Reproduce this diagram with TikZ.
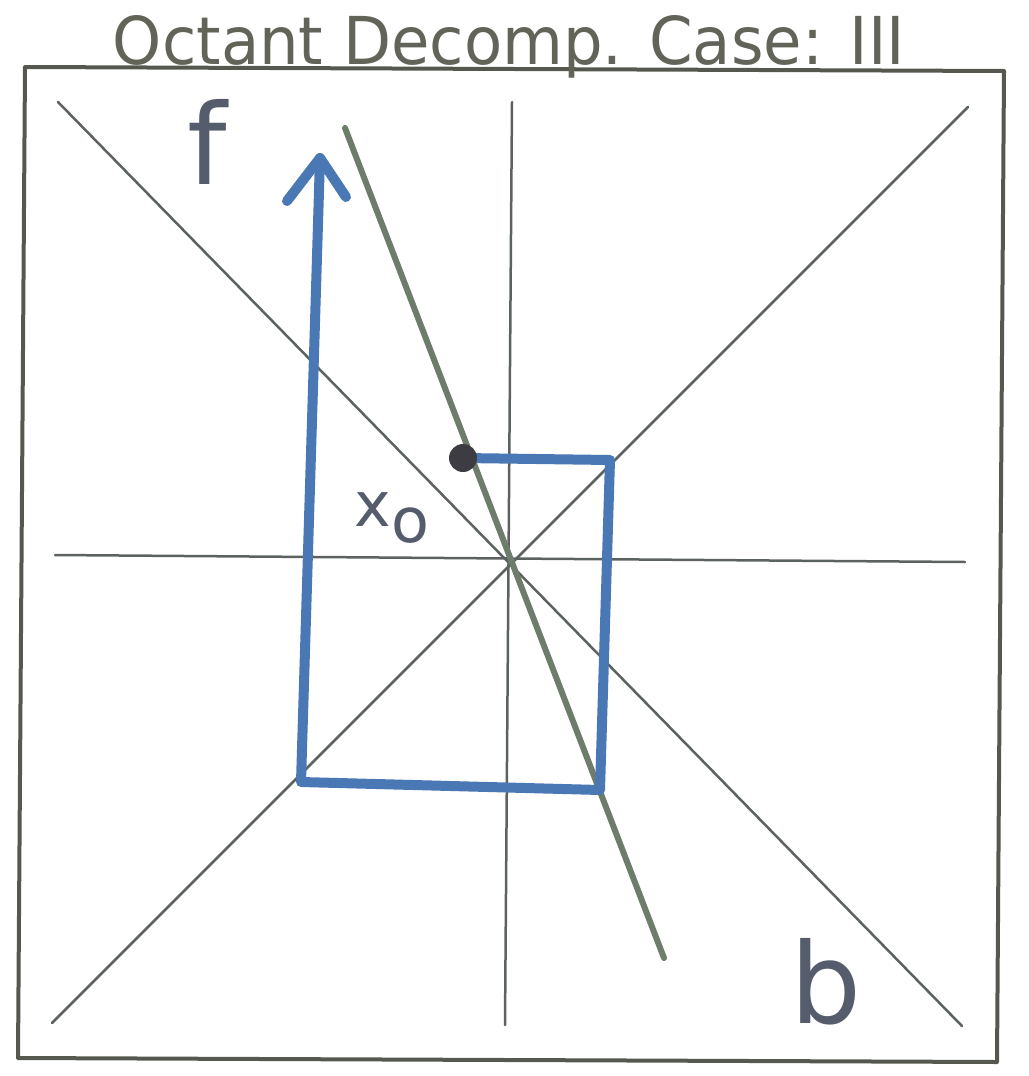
\documentclass[tikz,border=0pt]{standalone}
\usepackage{fontspec}
\setmainfont{DejaVu Sans}
\usepackage{graphicx}
\definecolor{frame}{HTML}{55584F}
\definecolor{axis}{HTML}{5C6260}
\definecolor{greenl}{HTML}{6E7C6C}
\definecolor{bluel}{HTML}{4A78B4}
\definecolor{labc}{HTML}{555C6C}
\definecolor{dotc}{HTML}{3C3C42}
\definecolor{titlec}{HTML}{62645A}
\tikzset{
  framebox/.style={draw=frame, line width=4pt, line join=round},
  axisline/.style={draw=axis, line width=2.5pt, line cap=round},
  splitline/.style={draw=greenl, line width=6pt, line cap=round},
  bluepath/.style={draw=bluel, line width=10pt, line cap=round, line join=round},
  lab/.style={inner sep=0pt, text=labc},
}
\begin{document}
\begin{tikzpicture}[x=1pt,y=-1pt]
\useasboundingbox (0,0) rectangle (1028,1076);
% frame
\coordinate (TL) at (25,67);
\coordinate (TR) at (1004,71);
\coordinate (BR) at (997,1062);
\coordinate (BL) at (18,1058);
\draw[framebox] (TL) -- (TR) -- (BR) -- (BL) -- cycle;
% title
\node[inner sep=0pt, anchor=base, text=titlec] (title) at (509,64)
  {\resizebox{792pt}{49pt}{Octant Decomp. Case: III}};
% axes
\coordinate (C) at (510,561);
\coordinate (hl) at (55,555);
\coordinate (hr) at (965,562);
\coordinate (vt) at (512,102);
\coordinate (vb) at (505,1025);
\coordinate (d1a) at (58,102);
\coordinate (d1b) at (962,1026);
\coordinate (d2a) at (968,107);
\coordinate (d2b) at (52,1023);
\draw[axisline] (hl) -- (hr);
\draw[axisline] (vt) -- (vb);
\draw[axisline] (d1a) -- (d1b);
\draw[axisline] (d2a) -- (d2b);
% split line
\coordinate (g1) at (345,128);
\coordinate (g2) at (664,958);
\draw[splitline] (g1) -- (g2);
% blue path
\coordinate (p0) at (463,458);
\coordinate (p1) at (610,460);
\coordinate (p2) at (600,790);
\coordinate (p3) at (301,782);
\coordinate (tip) at (320,158);
\coordinate (hl1) at (287,201);
\coordinate (hr1) at (346,197);
\draw[bluepath] (p0) -- (p1) -- (p2) -- (p3) -- (tip);
\draw[bluepath] (hl1) -- (tip) -- (hr1);
\node[dotc, circle, fill, inner sep=0pt, minimum size=28pt] (dot) at (p0) {};
% labels
\node[lab, font=\fontsize{112}{112}\selectfont] (f) at (207,142) {f};
\node[lab, font=\fontsize{62}{62}\selectfont] (x0) at (392,518) {x\raisebox{-16pt}{o}};
\node[lab, font=\fontsize{112}{112}\selectfont] (b) at (826,982) {b};
\end{tikzpicture}
\end{document}
